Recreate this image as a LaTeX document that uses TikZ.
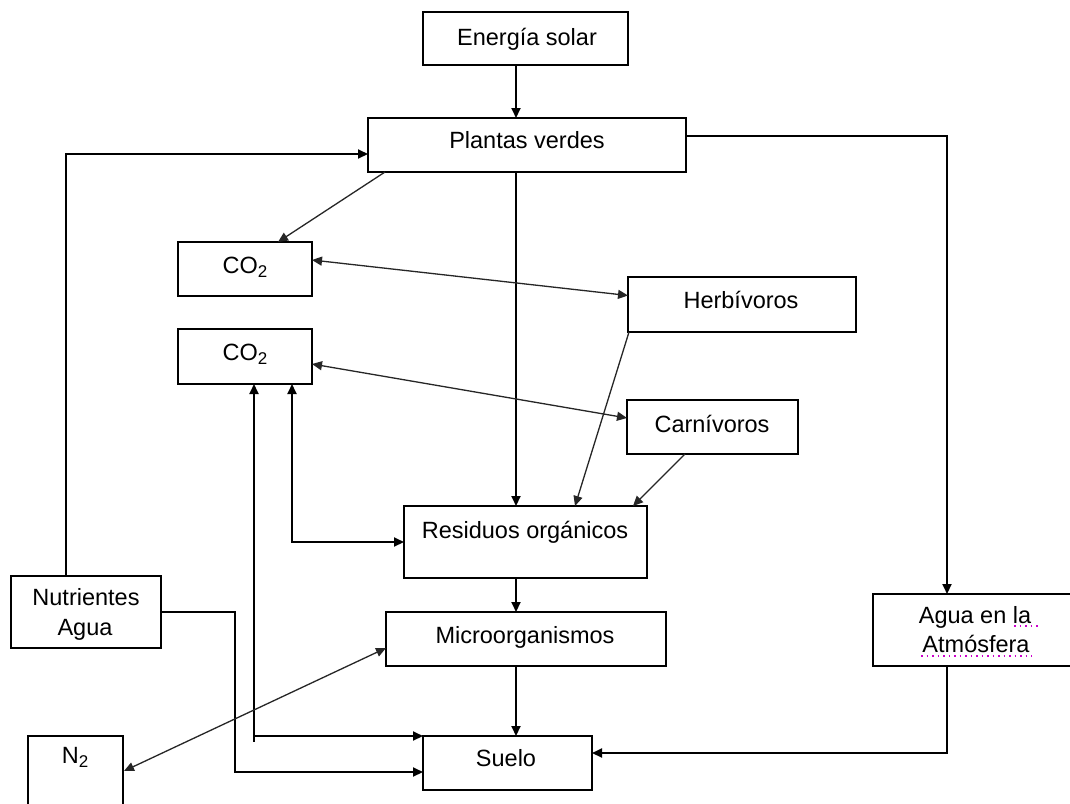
\documentclass[tikz,border=0pt]{standalone}
\usepackage{fontspec}
\setmainfont{Liberation Sans}
\usetikzlibrary{arrows.meta,calc}
\begin{document}
\begin{tikzpicture}[x=1pt,y=-1pt,
  >={Triangle[length=10pt,width=9pt]},
  box/.style={draw, line width=2pt, inner sep=0pt, outer sep=0pt},
  lab/.style={anchor=base, inner sep=0pt, font=\fontsize{23.5}{28}\selectfont},
  conn/.style={line width=2pt, ->},
  plain/.style={line width=2pt},
  thinline/.style={line width=1.3pt, draw=black!85},
  spell/.style={draw={rgb,255:red,204;green,0;blue,204}, line width=1.5pt, dash pattern=on 1.5pt off 4pt}]
\useasboundingbox[fill=white] (0,0) rectangle (1070,803);

% boxes
\node[box, minimum width=205pt, minimum height=53pt] (en) at (525.5,38.5) {};
\node[box, minimum width=318pt, minimum height=54pt] (pl) at (527,145) {};
\node[box, minimum width=134pt, minimum height=54pt] (co2a) at (245,269) {};
\node[box, minimum width=134pt, minimum height=55pt] (co2b) at (245,356.5) {};
\node[box, minimum width=228pt, minimum height=55pt] (herb) at (742,304.5) {};
\node[box, minimum width=171pt, minimum height=54pt] (carn) at (712.5,427) {};
\node[box, minimum width=243pt, minimum height=72pt] (res) at (525.5,542) {};
\node[box, minimum width=280pt, minimum height=54pt] (mic) at (526,639) {};
\node[box, minimum width=169pt, minimum height=54pt] (sue) at (507.5,763) {};
\node[box, minimum width=150pt, minimum height=72pt] (nut) at (86,612) {};
\node[box, minimum width=95pt, minimum height=94pt] (n2) at (75.5,783) {};
\node[box, minimum width=227pt, minimum height=72pt] (agu) at (986.5,630) {};

% texts
\node[lab] (ten) at (527,45) {Energía solar};
\node[lab] (tpl) at (527,148) {Plantas verdes};
\node[lab] (tco2a) at (245,273) {CO\raisebox{-4pt}{\fontsize{17}{17}\selectfont 2}};
\node[lab] (tco2b) at (245,360) {CO\raisebox{-4pt}{\fontsize{17}{17}\selectfont 2}};
\node[lab] (therb) at (741,308) {Herbívoros};
\node[lab] (tcarn) at (712,432) {Carnívoros};
\node[lab] (tres) at (525,538) {Residuos orgánicos};
\node[lab] (tmic) at (525,643) {Microorganismos};
\node[lab] (tsue) at (506,766) {Suelo};
\node[lab] (tnut1) at (86,605) {Nutrientes};
\node[lab] (tnut2) at (85,635) {Agua};
\node[lab] (tn2) at (75,763) {N\raisebox{-4pt}{\fontsize{17}{17}\selectfont 2}};
\node[lab] (tag1) at (975,623) {Agua en la};
\node[lab] (tag2) at (976,652) {Atmósfera};

% spell-check underlines
\draw[spell] (1014,626) -- (1040,626);
\draw[spell] (921,656) -- (1032,656);

% helper coordinates
\coordinate (x516) at (516,0);
\coordinate (x235) at (235,0);
\path ($(co2b.south west)+(76,0)$) coordinate (p1);
\path ($(co2b.south west)+(114,0)$) coordinate (p2);
\path ($(agu.north west)+(74,0)$) coordinate (p3);
\path ($(agu.south west)+(74,0)$) coordinate (p4);
\path ($(sue.west)+(0,9)$) coordinate (p5);
\coordinate (k1) at (p1 |- sue.north);

% connectors
\draw[conn] (en.south -| x516) -- (pl.north -| x516);
\draw[conn] ($(nut.north west)+(55,0)$) |- ($(pl.west)+(0,9)$);
\draw[conn] ($(pl.east)+(0,-9)$) -| (p3);
\draw[thinline, ->] ($(pl.south west)+(17,0)$) -- ($(co2a.north west)+(100,0)$);
\draw[conn] (pl.south -| x516) -- (res.north -| x516);
\draw[thinline, <->] ($(co2a.east)+(0,-9)$) -- ($(herb.west)+(0,-9)$);
\draw[thinline, <->] ($(co2b.east)+(0,7.5)$) -- ($(carn.west)+(0,-9)$);
\draw[thinline, ->] ($(herb.south west)+(1,0)$) -- ($(res.north west)+(171,0)$);
\draw[thinline, ->] ($(carn.south west)+(58,0)$) -- ($(res.north west)+(229,0)$);
\draw[plain, <->] (p1) -- (k1) -- (sue.north west);
\draw[plain] (k1) -- ++(0,6);
\draw[plain, <->] (p2) |- (res.west);
\draw[conn] (res.south -| x516) -- (mic.north -| x516);
\draw[conn] (mic.south -| x516) -- (sue.north -| x516);
\draw[conn] (nut.east) -- (x235 |- nut.east) -- (x235 |- p5) -- (p5);
\draw[conn] (p4) |- ($(sue.east)+(0,-10)$);
\draw[thinline, <->] ($(mic.west)+(0,9)$) -- ($(n2.north east)+(1,35)$);
\end{tikzpicture}
\end{document}
